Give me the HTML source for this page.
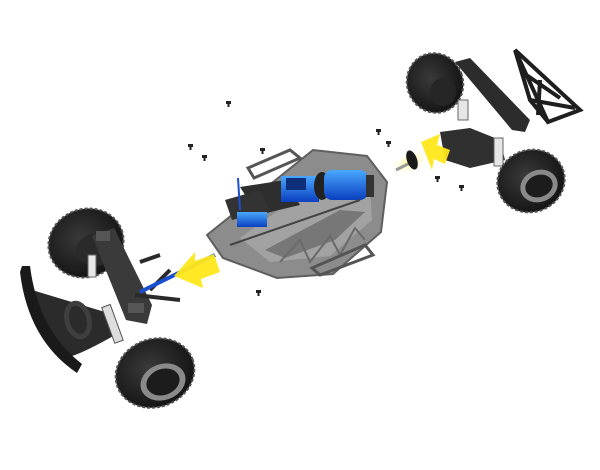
<!DOCTYPE html>
<html><head><meta charset="utf-8"><style>html,body{margin:0;padding:0;background:#fff;width:600px;height:470px;overflow:hidden}</style></head>
<body>
<svg width="600" height="470" viewBox="0 0 600 470" xmlns="http://www.w3.org/2000/svg">
<defs>
<radialGradient id="tire" cx="45%" cy="40%" r="60%"><stop offset="0" stop-color="#3a3a3a"/><stop offset="1" stop-color="#141414"/></radialGradient>
<linearGradient id="blue" x1="0" y1="0" x2="0" y2="1"><stop offset="0" stop-color="#4aa8ff"/><stop offset="1" stop-color="#0a3fbf"/></linearGradient>
<radialGradient id="glow"><stop offset="0" stop-color="#fff27a"/><stop offset="1" stop-color="#fff" stop-opacity="0"/></radialGradient>
</defs>

<!-- FRONT ASSEMBLY -->
<ellipse cx="86" cy="243" rx="38" ry="34" transform="rotate(-20 86 243)" fill="url(#tire)" stroke="#555" stroke-width="2" stroke-dasharray="3 2"/>
<ellipse cx="96" cy="250" rx="20" ry="16" fill="#2a2a2a"/>
<!-- bumper -->
<path d="M32 290 Q65 300 105 312 L115 335 Q85 352 72 356 Q45 335 35 300 Z" fill="#2b2b2b"/>
<path d="M22 266 L30 266 Q38 330 82 364 L77 373 Q28 340 20 272 Z" fill="#1a1a1a"/>
<ellipse cx="78" cy="320" rx="11" ry="17" transform="rotate(-15 78 320)" fill="none" stroke="#3f3f3f" stroke-width="5"/>
<!-- chassis arm -->
<path d="M92 236 L114 228 L152 305 L147 324 L126 320 Z" fill="#3a3a3a"/>
<rect x="96" y="231" width="14" height="10" fill="#555"/>
<rect x="128" y="303" width="16" height="10" fill="#555"/>
<path d="M140 262 L160 255 M135 295 L180 300 M150 290 L170 270" stroke="#2a2a2a" stroke-width="4"/>
<!-- shocks -->
<rect x="108" y="305" width="9" height="38" transform="rotate(-20 112 324)" fill="#ddd" stroke="#555" stroke-width="1"/>
<rect x="88" y="255" width="8" height="22" fill="#e8e8e8" stroke="#666" stroke-width="1"/>
<ellipse cx="155" cy="373" rx="40" ry="34" transform="rotate(-20 155 373)" fill="url(#tire)" stroke="#555" stroke-width="2" stroke-dasharray="3 2"/>
<ellipse cx="163" cy="382" rx="23" ry="18" transform="rotate(-20 163 382)" fill="#8a8a8a"/>
<ellipse cx="163" cy="382" rx="17" ry="13" transform="rotate(-20 163 382)" fill="#1c1c1c"/>
<!-- front driveshaft -->
<line x1="140" y1="292" x2="215" y2="255" stroke="#1a4fd0" stroke-width="4"/>
<!-- front arrow -->
<path d="M174 276 L195 252 L195 261 L214 254 L220 272 L201 279 L203 288 Z" fill="#ffe81a" opacity="0.95"/>

<!-- CENTER CHASSIS -->
<path d="M207 235 L313 150 L367 156 L387 182 L381 232 L333 274 L277 278 L223 258 Z" fill="#8c8c8c" stroke="#5f5f5f" stroke-width="2"/>
<path d="M240 238 L320 180 L370 186 L372 220 L330 256 L270 262 Z" fill="#a2a2a2"/>
<path d="M265 250 L340 210 L365 212 L335 240 L285 258 Z" fill="#777"/>
<path d="M280 262 L300 240 L310 262 L330 236 L340 255 L355 228 L365 240" fill="none" stroke="#6a6a6a" stroke-width="2"/>
<path d="M248 168 L290 150 L300 158 L254 178 Z" fill="none" stroke="#555" stroke-width="3"/>
<path d="M312 268 L365 245 L373 255 L320 275 Z" fill="none" stroke="#555" stroke-width="3"/>
<path d="M240 187 L285 180 L300 205 L258 215 Z" fill="#2e2e2e"/>
<path d="M225 200 L260 190 L270 210 L232 220 Z" fill="#333"/>
<rect x="237" y="212" width="30" height="15" fill="url(#blue)"/>
<rect x="281" y="176" width="38" height="26" fill="url(#blue)"/>
<rect x="286" y="178" width="20" height="12" fill="#0f2f7a"/>
<ellipse cx="322" cy="186" rx="8" ry="14" fill="#222"/>
<rect x="324" y="170" width="44" height="30" rx="8" fill="url(#blue)"/>
<rect x="366" y="175" width="8" height="22" fill="#333"/>
<line x1="238" y1="178" x2="240" y2="210" stroke="#1a4fd0" stroke-width="2"/>
<line x1="230" y1="245" x2="360" y2="200" stroke="#444" stroke-width="2"/>

<!-- REAR ASSEMBLY -->
<ellipse cx="435" cy="83" rx="28" ry="30" transform="rotate(-20 435 83)" fill="url(#tire)" stroke="#555" stroke-width="2" stroke-dasharray="3 2"/>
<ellipse cx="443" cy="92" rx="13" ry="14" fill="#262626"/>
<!-- cage -->
<path d="M515 50 L580 110 L548 122 Z M515 50 L530 100 L548 122 M522 72 L560 98 M530 100 L575 108 M540 80 L538 115" fill="none" stroke="#1e1e1e" stroke-width="4"/>
<!-- beam -->
<path d="M455 62 L470 58 L530 120 L525 132 L512 130 Z" fill="#2c2c2c"/>
<path d="M440 132 L470 128 L500 140 L505 160 L470 168 L445 160 Z" fill="#303030"/>
<rect x="458" y="100" width="10" height="20" fill="#e6e6e6" stroke="#666" stroke-width="1"/>
<rect x="494" y="138" width="9" height="28" fill="#e6e6e6" stroke="#666" stroke-width="1"/>
<ellipse cx="531" cy="181" rx="34" ry="31" transform="rotate(-20 531 181)" fill="url(#tire)" stroke="#555" stroke-width="2" stroke-dasharray="3 2"/>
<ellipse cx="539" cy="186" rx="19" ry="16" transform="rotate(-20 539 186)" fill="#8a8a8a"/>
<ellipse cx="539" cy="186" rx="14" ry="11" transform="rotate(-20 539 186)" fill="#1c1c1c"/>
<!-- rear arrow + shaft -->
<ellipse cx="410" cy="162" rx="22" ry="11" transform="rotate(-25 410 162)" fill="url(#glow)"/>
<line x1="396" y1="170" x2="412" y2="162" stroke="#999" stroke-width="3"/>
<ellipse cx="412" cy="160" rx="5" ry="10" transform="rotate(-20 412 160)" fill="#1a1a1a"/>
<path d="M421 142 L440 134 L437 145 L450 150 L445 164 L434 159 L432 170 Z" fill="#ffe81a" opacity="0.95"/>

<!-- screws -->
<g fill="#222">
<rect x="226" y="101" width="5" height="3"/><rect x="227.5" y="103" width="2" height="4"/>
<rect x="188" y="144" width="5" height="3"/><rect x="189.5" y="146" width="2" height="4"/>
<rect x="202" y="155" width="5" height="3"/><rect x="203.5" y="157" width="2" height="4"/>
<rect x="260" y="148" width="5" height="3"/><rect x="261.5" y="150" width="2" height="4"/>
<rect x="376" y="129" width="5" height="3"/><rect x="377.5" y="131" width="2" height="4"/>
<rect x="386" y="141" width="5" height="3"/><rect x="387.5" y="143" width="2" height="4"/>
<rect x="435" y="176" width="5" height="3"/><rect x="436.5" y="178" width="2" height="4"/>
<rect x="459" y="185" width="5" height="3"/><rect x="460.5" y="187" width="2" height="4"/>
<rect x="256" y="290" width="5" height="3"/><rect x="257.5" y="292" width="2" height="4"/>
</g>
</svg>
</body></html>
